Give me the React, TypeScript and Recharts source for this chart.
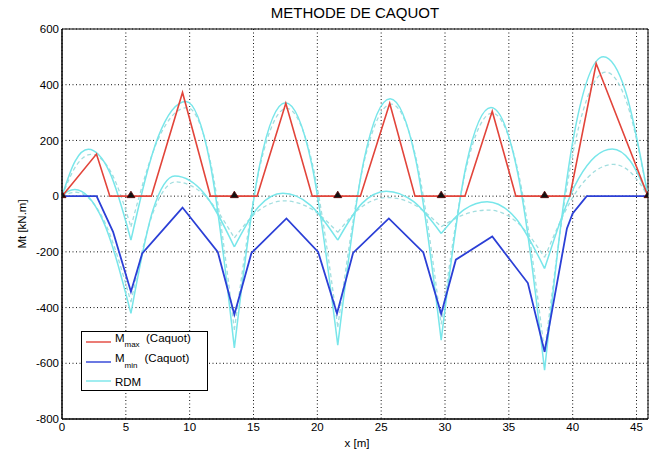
import React from 'react'
import {
  ComposedChart, Line, Scatter, XAxis, YAxis, CartesianGrid, ReferenceArea,
} from 'recharts'

const X_MAX = 45.9
const xTicks = [0, 5, 10, 15, 20, 25, 30, 35, 40, 45]
const yTicks = [-800, -600, -400, -200, 0, 200, 400, 600]

// appuis de la poutre
const supports = [0, 5.4, 13.5, 21.6, 29.7, 37.8, 45.9]

// M max (Caquot)
const mmaxX = [0, 2.7, 3.75, 7.0, 9.44, 11.63, 15.28, 17.53, 19.6, 23.37, 25.67, 27.65, 31.56, 33.7, 35.55, 39.78, 41.84, 45.9]
const mmaxY = [0, 151, 0, 0, 372, 0, 0, 333, 0, 0, 333, 0, 0, 305, 0, 0, 476, 0]

// M min (Caquot)
const mminX = [0, 2.71, 4.0, 5.4, 6.28, 9.44, 12.2, 13.5, 14.84, 17.58, 20.06, 21.54, 22.8, 25.6, 28.3, 29.7, 30.85, 33.7, 36.49, 37.8, 39.55, 40.0, 41.1, 45.9]
const mminY = [0, 0, -128, -343, -206, -41, -200, -425, -204, -80, -200, -421, -204, -80, -202, -423, -228, -145, -312, -559, -116, -62, 0, 0]

// RDM : points [x, M] travée par travée
const rdmUpper = [
  [[0, 0], [1.03, 126], [2.06, 168], [3.73, 86], [5.4, -158]],
  [[5.4, -158], [7.55, 215], [9.7, 340], [11.6, 119], [13.5, -545]],
  [[13.5, -545], [15.5, 115], [17.5, 335], [19.55, 117], [21.6, -535]],
  [[21.6, -535], [23.65, 129], [25.7, 350], [27.7, 133], [29.7, -517]],
  [[29.7, -517], [31.65, 109], [33.6, 318], [35.7, 82], [37.8, -625]],
  [[37.8, -625], [40.1, 219], [42.4, 500], [44.15, 375], [45.9, 0]],
]
const rdmUpperDash = [
  [[0, 0], [1.15, 112], [2.3, 150], [3.85, 85], [5.4, -110]],
  [[5.4, -110], [7.6, 211], [9.8, 318], [11.65, 118], [13.5, -480]],
  [[13.5, -480], [15.55, 116], [17.6, 315], [19.6, 119], [21.6, -470]],
  [[21.6, -470], [23.7, 130], [25.8, 330], [27.75, 132], [29.7, -460]],
  [[29.7, -460], [31.7, 108], [33.7, 298], [35.75, 83], [37.8, -560]],
  [[37.8, -560], [40.2, 194], [42.6, 445], [44.25, 334], [45.9, 0]],
]
const rdmLower = [
  [[0, 0], [0.5, 18], [1.0, 24], [3.2, -87], [5.4, -421]],
  [[5.4, -421], [7.12, -51], [8.84, 72], [11.17, 8], [13.5, -182]],
  [[13.5, -182], [15.4, -38], [17.3, 10], [19.45, -32], [21.6, -158]],
  [[21.6, -158], [23.5, -26], [25.4, 18], [27.55, -20], [29.7, -134]],
  [[29.7, -134], [31.5, -48], [33.3, -20], [35.55, -80], [37.8, -260]],
  [[37.8, -260], [40.45, 62], [43.1, 169], [44.5, 127], [45.9, 0]],
]
const rdmLowerDash = [
  [[0, 0], [0.55, 10], [1.1, 14], [3.25, -84], [5.4, -380]],
  [[5.4, -380], [7.15, -57], [8.9, 51], [11.2, 1], [13.5, -150]],
  [[13.5, -150], [15.45, -50], [17.4, -17], [19.5, -45], [21.6, -130]],
  [[21.6, -130], [23.55, -36], [25.5, -5], [27.6, -31], [29.7, -110]],
  [[29.7, -110], [31.55, -65], [33.4, -50], [35.6, -92], [37.8, -220]],
  [[37.8, -220], [40.5, 30], [43.2, 114], [44.55, 85], [45.9, 0]],
]

const zip = (xs: number[], ys: number[]) => xs.map((x, i) => ({ x, y: ys[i] }))

// one path per span, broken by a null point
const bySpan = (spans: number[][][]) =>
  spans.flatMap((pts, i) => {
    const seg = pts.map(([x, y]) => ({ x, y } as { x: number; y: number | null }))
    if (i < spans.length - 1) seg.push({ x: pts[pts.length - 1][0], y: null })
    return seg
  })

const mmax = zip(mmaxX, mmaxY)
const mmin = zip(mminX, mminY)
const supportPts = supports.map(x => ({ x, y: 0 }))

const RED = '#E2443A'
const BLUE = '#2B3FD6'
const CYAN = '#78E6EA'
const CYAN_D = '#A2DEDF'
const FONT = '"Liberation Sans", Arial, sans-serif'

const Triangle = (props: any) => {
  const { cx, cy } = props
  return (
    <polygon
      points={`${cx},${cy - 5} ${cx - 4},${cy + 1.5} ${cx + 4},${cy + 1.5}`}
      fill="#111"
      stroke="#5a0000"
      strokeWidth={0.8}
    />
  )
}

const Overlay = () => (
  <svg width={658} height={450} style={{ position: 'absolute', left: 0, top: 0, pointerEvents: 'none' }}>
    <g fontFamily={FONT} fill="#000">
      <text x={355} y={18} fontSize={15} textAnchor="middle">METHODE DE CAQUOT</text>
      <text x={357} y={447} fontSize={11.5} textAnchor="middle">x [m]</text>
      <text transform="translate(26,224) rotate(-90)" fontSize={11.5} textAnchor="middle">Mt [kN.m]</text>
      <rect x={81.5} y={331.5} width={126} height={59} fill="#fff" stroke="#000" />
      <line x1={86} x2={111} y1={342} y2={342} stroke={RED} strokeWidth={1.4} />
      <text x={115} y={342} fontSize={11.5}>M</text>
      <text x={124.5} y={347} fontSize={8}>max</text>
      <text x={146} y={342} fontSize={11.5}>(Caquot)</text>
      <line x1={86} x2={111} y1={362} y2={362} stroke={BLUE} strokeWidth={1.4} />
      <text x={115} y={362} fontSize={11.5}>M</text>
      <text x={124.5} y={367.5} fontSize={8}>min</text>
      <text x={144.5} y={362} fontSize={11.5}>(Caquot)</text>
      <line x1={86} x2={111} y1={381} y2={381} stroke={CYAN} strokeWidth={1.4} />
      <text x={115} y={385.5} fontSize={11.5}>RDM</text>
    </g>
  </svg>
)

export default function App() {
  return (
    <div style={{ position: 'absolute', left: 0, top: 0, width: 658, height: 450, background: '#fff' }}>
      <ComposedChart width={658} height={450} margin={{ top: 29, right: 10, bottom: 6, left: 0 }}>
        <CartesianGrid stroke="#111" strokeDasharray="1 2.5" />
        <XAxis
          dataKey="x"
          type="number"
          domain={[0, X_MAX]}
          ticks={xTicks}
          allowDataOverflow
          height={25}
          tick={{ fontSize: 11.5, fill: '#000', fontFamily: FONT }}
          tickLine={false}
          tickSize={4}
          tickMargin={0}
          axisLine={{ stroke: '#000' }}
        />
        <YAxis
          type="number"
          domain={[-800, 600]}
          ticks={yTicks}
          allowDataOverflow
          width={62}
          tick={{ fontSize: 11.5, fill: '#000', fontFamily: FONT }}
          tickLine={false}
          tickSize={0}
          tickMargin={3}
          axisLine={{ stroke: '#000' }}
        />
        <ReferenceArea x1={0} x2={X_MAX} y1={-800} y2={600} fill="none" stroke="#000" strokeWidth={1} />
        <Line data={bySpan(rdmLowerDash)} dataKey="y" type="monotoneX" stroke={CYAN_D} strokeWidth={1.3} strokeDasharray="4 3" dot={false} isAnimationActive={false} />
        <Line data={bySpan(rdmUpperDash)} dataKey="y" type="monotoneX" stroke={CYAN_D} strokeWidth={1.3} strokeDasharray="4 3" dot={false} isAnimationActive={false} />
        <Line data={bySpan(rdmLower)} dataKey="y" type="monotoneX" stroke={CYAN} strokeWidth={1.5} dot={false} isAnimationActive={false} />
        <Line data={bySpan(rdmUpper)} dataKey="y" type="monotoneX" stroke={CYAN} strokeWidth={1.5} dot={false} isAnimationActive={false} />
        <Line data={mmax} dataKey="y" type="linear" stroke={RED} strokeWidth={1.6} dot={false} isAnimationActive={false} />
        <Line data={mmin} dataKey="y" type="linear" stroke={BLUE} strokeWidth={1.8} dot={false} isAnimationActive={false} />
        <Scatter data={supportPts} dataKey="y" shape={Triangle} isAnimationActive={false} />
      </ComposedChart>
      <Overlay />
    </div>
  )
}
